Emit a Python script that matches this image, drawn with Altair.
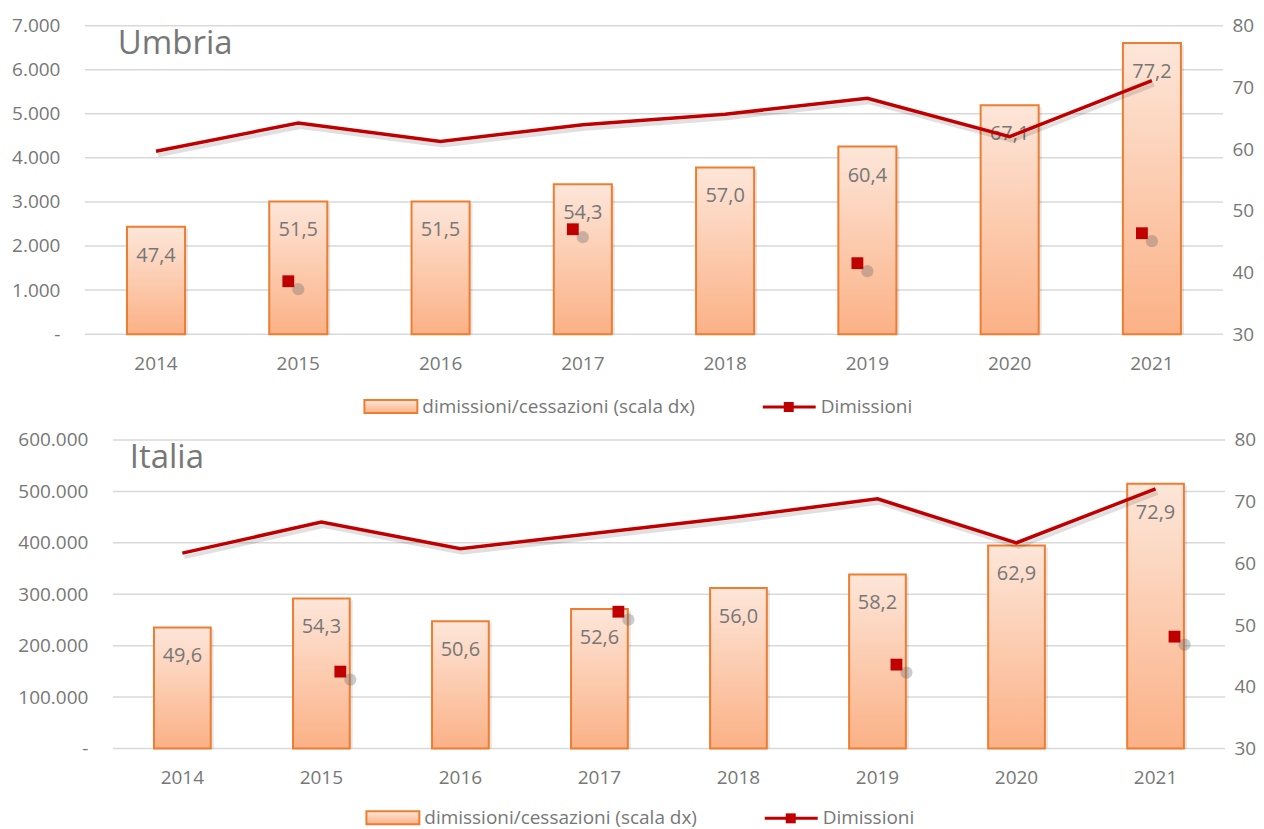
import altair as alt
import pandas as pd

years = ["2014", "2015", "2016", "2017", "2018", "2019", "2020", "2021"]

# Umbria
umbria_ratio = [47.4, 51.5, 51.5, 54.3, 57.0, 60.4, 67.1, 77.2]
umbria_dim = [4150, 4790, 4370, 4750, 4990, 5350, 4480, 5750]
umbria_marker = [None, 1200, None, 2380, None, 1610, None, 2290]

# Italia
italia_ratio = [49.6, 54.3, 50.6, 52.6, 56.0, 58.2, 62.9, 72.9]
italia_dim = [380000, 440200, 388400, 419400, 450500, 485400, 400000, 504900]
italia_marker = [None, 149500, None, 266000, None, 163100, None, 217500]

right_ticks = [30, 40, 50, 60, 70, 80]
umbria_left_ticks = [0, 1000, 2000, 3000, 4000, 5000, 6000, 7000]
italia_left_ticks = [0, 100000, 200000, 300000, 400000, 500000, 600000]

bar_label = "dimissioni/cessazioni (scala dx)"
line_label = "Dimissioni"

FONT = "Open Sans"
GRAY = "#777777"
RED = "#c00000"
ORANGE = "#ed7d31"
GRID = "#d9d9d9"
H = 309

bar_fill = alt.Gradient(
    gradient="linear",
    stops=[alt.GradientStop(color="#fde6d9", offset=0),
           alt.GradientStop(color="#fbb186", offset=1)],
    x1=0, x2=0, y1=0, y2=1,
)


def panel(name, ratio, dim, marker, left_ticks, width, x0, title_dx,
          marker_dx, leg_x, ly):
    df = pd.DataFrame({"year": years, "ratio": ratio, "dim": dim, "mk": marker})
    ticks_df = pd.DataFrame({"v": left_ticks})
    one = pd.DataFrame({"k": [0]})
    base = alt.Chart(df)

    xscale = alt.Scale(paddingInner=0.592, paddingOuter=0.296)
    if x0:
        xscale = alt.Scale(paddingInner=0.592, paddingOuter=0.296,
                           range=[x0, width])
    x = alt.X("year:N", sort=years, title=None, scale=xscale,
              axis=alt.Axis(labelFont=FONT, labelFontSize=19, labelColor=GRAY,
                            labelPadding=20, ticks=False, domain=False,
                            labelAngle=0, grid=False))

    right_axis = alt.Axis(orient="right", values=right_ticks, grid=False,
                          ticks=False, domain=False, labelFont=FONT,
                          labelFontSize=19, labelColor=GRAY, labelPadding=9,
                          title=None)
    left_axis = alt.Axis(orient="left", values=left_ticks, grid=False,
                         ticks=False, domain=False, labelFont=FONT,
                         labelFontSize=19, labelColor=GRAY, labelPadding=25,
                         offset=-x0, title=None,
                         labelExpr="datum.value == 0 ? '-\u00a0\u00a0' : "
                                   "replace(format(datum.value, ','), ',', '.')")

    yr_scale = alt.Scale(domain=[30, 80], nice=False, zero=False)
    yl_scale = alt.Scale(domain=[0, left_ticks[-1]], nice=False)

    # gridlines (left scale) - bottom-most
    grid = alt.Chart(ticks_df).mark_rule(color=GRID, strokeWidth=1.5).encode(
        y=alt.Y("v:Q", scale=yl_scale, axis=left_axis),
        x=alt.value(x0), x2=alt.value(width))

    # bars on right scale
    bar_shadow = base.mark_bar(color="#000000", opacity=0.10, xOffset=3,
                               yOffset=2).encode(
        x=x, y=alt.Y("ratio:Q", scale=yr_scale, axis=right_axis),
        y2=alt.datum(30))
    bars = base.mark_bar(fill=bar_fill, stroke=ORANGE, strokeWidth=2).encode(
        x=x, y=alt.Y("ratio:Q", scale=yr_scale, axis=right_axis),
        y2=alt.datum(30))
    labels = base.transform_calculate(
        lab="replace(format(datum.ratio, '.1f'), '.', ',')"
    ).mark_text(font=FONT, fontSize=20, color=GRAY, baseline="middle",
                dy=29).encode(
        x=x, y=alt.Y("ratio:Q", scale=yr_scale, axis=right_axis),
        text="lab:N")
    right_group = alt.layer(bar_shadow, bars, labels)

    # line + markers on left scale, drawn on top
    line_shadow = base.mark_line(color="#000000", opacity=0.12, strokeWidth=4,
                                 xOffset=2, yOffset=4).encode(
        x=x, y=alt.Y("dim:Q", scale=yl_scale, axis=None))
    line = base.mark_line(color=RED, strokeWidth=3.5).encode(
        x=x, y=alt.Y("dim:Q", scale=yl_scale, axis=None))
    mk_shadow = base.transform_filter("isValid(datum.mk)").mark_circle(
        size=150, color="#6b6b6b", opacity=0.35, xOffset=marker_dx + 10,
        yOffset=8).encode(
        x=x, y=alt.Y("mk:Q", scale=yl_scale, axis=None))
    mk = base.transform_filter("isValid(datum.mk)").mark_square(
        size=140, color=RED, opacity=1, xOffset=marker_dx).encode(
        x=x, y=alt.Y("mk:Q", scale=yl_scale, axis=None))
    line_group = alt.layer(line_shadow, line, mk_shadow, mk)

    ob = alt.Chart(one)
    title = ob.mark_text(text=name, font=FONT, fontSize=33, color=GRAY,
                         align="left", baseline="alphabetic").encode(
        x=alt.value(x0 + title_dx), y=alt.value(28))
    lx = x0 + leg_x
    sw = ob.mark_rect(fill=bar_fill, stroke=ORANGE, strokeWidth=2).encode(
        x=alt.value(lx), x2=alt.value(lx + 53),
        y=alt.value(ly - 7), y2=alt.value(ly + 6))
    t1 = ob.mark_text(text=bar_label, font=FONT, fontSize=19, color=GRAY,
                      align="left", baseline="middle").encode(
        x=alt.value(lx + 58), y=alt.value(ly))
    lr = ob.mark_rule(color=RED, strokeWidth=3).encode(
        x=alt.value(lx + 399), x2=alt.value(lx + 452), y=alt.value(ly))
    lsq = ob.mark_square(size=100, color=RED, opacity=1).encode(
        x=alt.value(lx + 425), y=alt.value(ly))
    t2 = ob.mark_text(text=line_label, font=FONT, fontSize=19, color=GRAY,
                      align="left", baseline="middle").encode(
        x=alt.value(lx + 457), y=alt.value(ly))

    return alt.layer(grid, right_group, line_group, title, sw, t1, lr, lsq, t2
                     ).resolve_scale(y="independent").properties(
        width=width, height=H)


umbria = panel("Umbria", umbria_ratio, umbria_dim, umbria_marker,
               umbria_left_ticks, 1140, 0, 33, -10, 280, 382)
italia = panel("Italia", italia_ratio, italia_dim, italia_marker,
               italia_left_ticks, 1142, 28, 17, 19, 254, 379)

chart = alt.vconcat(umbria, italia, spacing=14).properties(
    padding={"top": 8, "left": 3, "right": 0, "bottom": 0},
    background="white",
).configure_view(stroke=None)

chart.save("out.html", embed_options={"renderer": "svg", "actions": False})
